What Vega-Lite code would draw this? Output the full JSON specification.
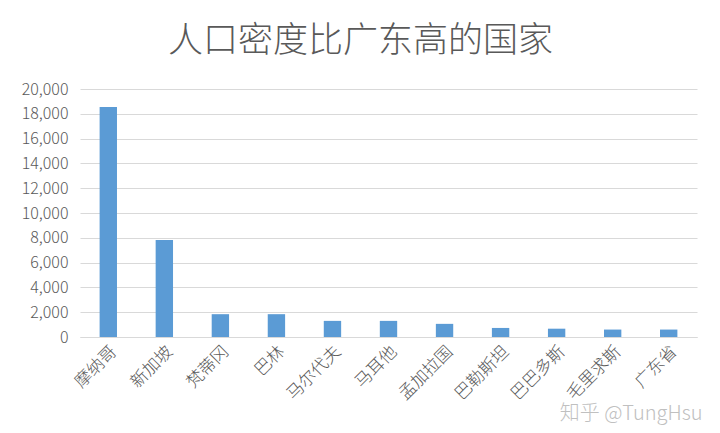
{
  "$schema": "https://vega.github.io/schema/vega-lite/v6.json",
  "width": 617,
  "height": 248,
  "autosize": "none",
  "padding": {"left": 80, "top": 89, "right": 23, "bottom": 96},
  "background": "white",
  "title": {
    "text": "人口密度比广东高的国家",
    "font": "Noto Sans CJK SC",
    "fontSize": 35,
    "fontWeight": 300,
    "color": "#595959",
    "anchor": "middle",
    "dx": -28,
    "offset": 22
  },
  "data": {
    "values": [
      {"country": "摩纳哥", "density": 18550},
      {"country": "新加坡", "density": 7830},
      {"country": "梵蒂冈", "density": 1840},
      {"country": "巴林", "density": 1840},
      {"country": "马尔代夫", "density": 1300},
      {"country": "马耳他", "density": 1300},
      {"country": "孟加拉国", "density": 1060},
      {"country": "巴勒斯坦", "density": 730},
      {"country": "巴巴多斯", "density": 670},
      {"country": "毛里求斯", "density": 600},
      {"country": "广东省", "density": 600}
    ]
  },
  "mark": {"type": "bar", "color": "#5B9BD5"},
  "encoding": {
    "x": {
      "field": "country",
      "type": "nominal",
      "sort": null,
      "scale": {"paddingInner": 0.69, "paddingOuter": 0.35},
      "title": "知乎 @TungHsu",
      "axis": {
        "labelAngle": -45,
        "labelFont": "Noto Sans CJK SC",
        "labelFontSize": 17,
        "labelFontWeight": 300,
        "labelColor": "#595959",
        "labelPadding": 6,
        "ticks": false,
        "domainColor": "#d9d9d9",
        "titleFont": "Noto Sans CJK SC",
        "titleFontSize": 20,
        "titleFontWeight": 300,
        "titleColor": "#c0c0c0",
        "titleAnchor": "end",
        "titleAlign": "right",
        "titleX": 622,
        "titleY": 66
      }
    },
    "y": {
      "field": "density",
      "type": "quantitative",
      "title": null,
      "scale": {"domain": [0, 20000]},
      "axis": {
        "values": [0, 2000, 4000, 6000, 8000, 10000, 12000, 14000, 16000, 18000, 20000],
        "format": ",d",
        "labelFont": "Noto Sans CJK SC",
        "labelFontSize": 16,
        "labelFontWeight": 300,
        "labelColor": "#595959",
        "labelPadding": 12,
        "ticks": false,
        "domain": false,
        "gridColor": "#d9d9d9"
      }
    }
  },
  "config": {"view": {"stroke": null}}
}
